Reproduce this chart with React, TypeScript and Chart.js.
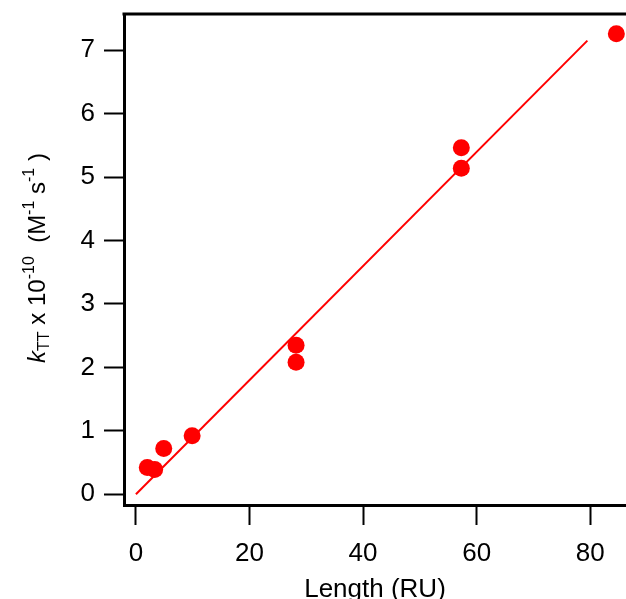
import React, { useEffect, useRef } from "react";
import { Chart, registerables } from "chart.js";

Chart.register(...registerables);

const lengthRU = [2, 3.3, 4.9, 9.9, 28.2, 28.2, 57.3, 57.3, 84.6];
const kTT = [0.42, 0.39, 0.72, 0.92, 2.35, 2.08, 5.46, 5.14, 7.26];
const fitX = [0, 79.5];
const fitY = [0, 7.15];
const xTicks = [0, 20, 40, 60, 80];
const yTicks = [0, 1, 2, 3, 4, 5, 6, 7];

const FONT = "'Liberation Sans', Arial, Helvetica, sans-serif";

const framePlugin = {
  id: "frame",
  afterDraw(chart: any) {
    const { ctx, chartArea } = chart;
    ctx.save();
    ctx.strokeStyle = "#000";
    ctx.lineWidth = 3;
    ctx.beginPath();
    ctx.moveTo(chartArea.left - 1.5, chartArea.top);
    ctx.lineTo(chartArea.right + 2, chartArea.top);
    ctx.stroke();
    ctx.restore();

    // Rotated y-axis title with sub/superscripts
    ctx.save();
    ctx.translate(45, 258);
    ctx.rotate(-Math.PI / 2);
    ctx.fillStyle = "#000";
    ctx.textBaseline = "alphabetic";
    const big = 24;
    const small = 16;
    const parts: { t: string; size: number; dy: number; italic?: boolean }[] = [
      { t: "k", size: big, dy: 0, italic: true },
      { t: "TT", size: small, dy: 4 },
      { t: " x 10", size: big, dy: 0 },
      { t: "-10", size: small, dy: -11 },
      { t: "  (M", size: big, dy: 0 },
      { t: "-1", size: small, dy: -11 },
      { t: " s", size: big, dy: 0 },
      { t: "-1", size: small, dy: -11 },
      { t: " )", size: big, dy: 0 },
    ];
    let total = 0;
    for (const p of parts) {
      ctx.font = `${p.italic ? "italic " : ""}${p.size}px ${FONT}`;
      total += ctx.measureText(p.t).width;
    }
    let x = -total / 2;
    for (const p of parts) {
      ctx.font = `${p.italic ? "italic " : ""}${p.size}px ${FONT}`;
      ctx.fillText(p.t, x, p.dy);
      x += ctx.measureText(p.t).width;
    }
    ctx.restore();
  },
};

const zeroPad = (s: any) => {
  s.paddingTop = 0;
  s.paddingBottom = 0;
  s.paddingLeft = 0;
  s.paddingRight = 0;
};

export default function App() {
  const ref = useRef<HTMLCanvasElement>(null);
  useEffect(() => {
    if (!ref.current) return;
    const chart = new Chart(ref.current, {
      type: "scatter",
      data: {
        datasets: [
          {
            type: "line",
            data: fitX.map((x, i) => ({ x, y: fitY[i] })),
            borderColor: "#ff0000",
            borderWidth: 2,
            pointRadius: 0,
            fill: false,
          } as any,
          {
            data: lengthRU.map((x, i) => ({ x, y: kTT[i] })),
            backgroundColor: "#ff0000",
            borderColor: "#ff0000",
            pointRadius: 8.5,
            borderWidth: 0,
          },
        ],
      },
      options: {
        animation: false,
        responsive: false,
        devicePixelRatio: 1,
        layout: { autoPadding: false, padding: { top: 14, left: 0, right: 0, bottom: 0 } },
        plugins: { legend: { display: false }, tooltip: { enabled: false } },
        scales: {
          x: {
            type: "linear",
            min: -2.1,
            max: 86.3,
            afterBuildTicks: (s: any) => {
              s.ticks = xTicks.map((v) => ({ value: v }));
            },
            afterFit: (s: any) => {
              s.height = 94;
              zeroPad(s);
            },
            grid: {
              display: true,
              drawOnChartArea: false,
              drawTicks: true,
              tickLength: 20,
              tickWidth: 2,
              tickColor: "#000",
            },
            border: { display: true, color: "#000", width: 3 },
            ticks: {
              color: "#000",
              font: { family: FONT, size: 26 },
              padding: 13,
              maxRotation: 0,
            },
            title: {
              display: true,
              text: "Length (RU)",
              color: "#000",
              font: { family: FONT, size: 26 },
              padding: { top: 0, bottom: -6 },
            },
          },
          y: {
            type: "linear",
            min: -0.17,
            max: 7.57,
            afterBuildTicks: (s: any) => {
              s.ticks = yTicks.map((v) => ({ value: v }));
            },
            afterFit: (s: any) => {
              s.width = 124;
              zeroPad(s);
            },
            grid: {
              display: true,
              drawOnChartArea: false,
              drawTicks: true,
              tickLength: 20,
              tickWidth: 2,
              tickColor: "#000",
            },
            border: { display: true, color: "#000", width: 3 },
            ticks: {
              color: "#000",
              font: { family: FONT, size: 26 },
              padding: 9,
            },
          },
        },
      },
      plugins: [framePlugin],
    });
    return () => chart.destroy();
  }, []);
  return (
    <div style={{ position: "fixed", left: 0, top: 0, width: 626, height: 599 }}>
      <canvas ref={ref} width={626} height={599} style={{ display: "block" }} />
    </div>
  );
}
